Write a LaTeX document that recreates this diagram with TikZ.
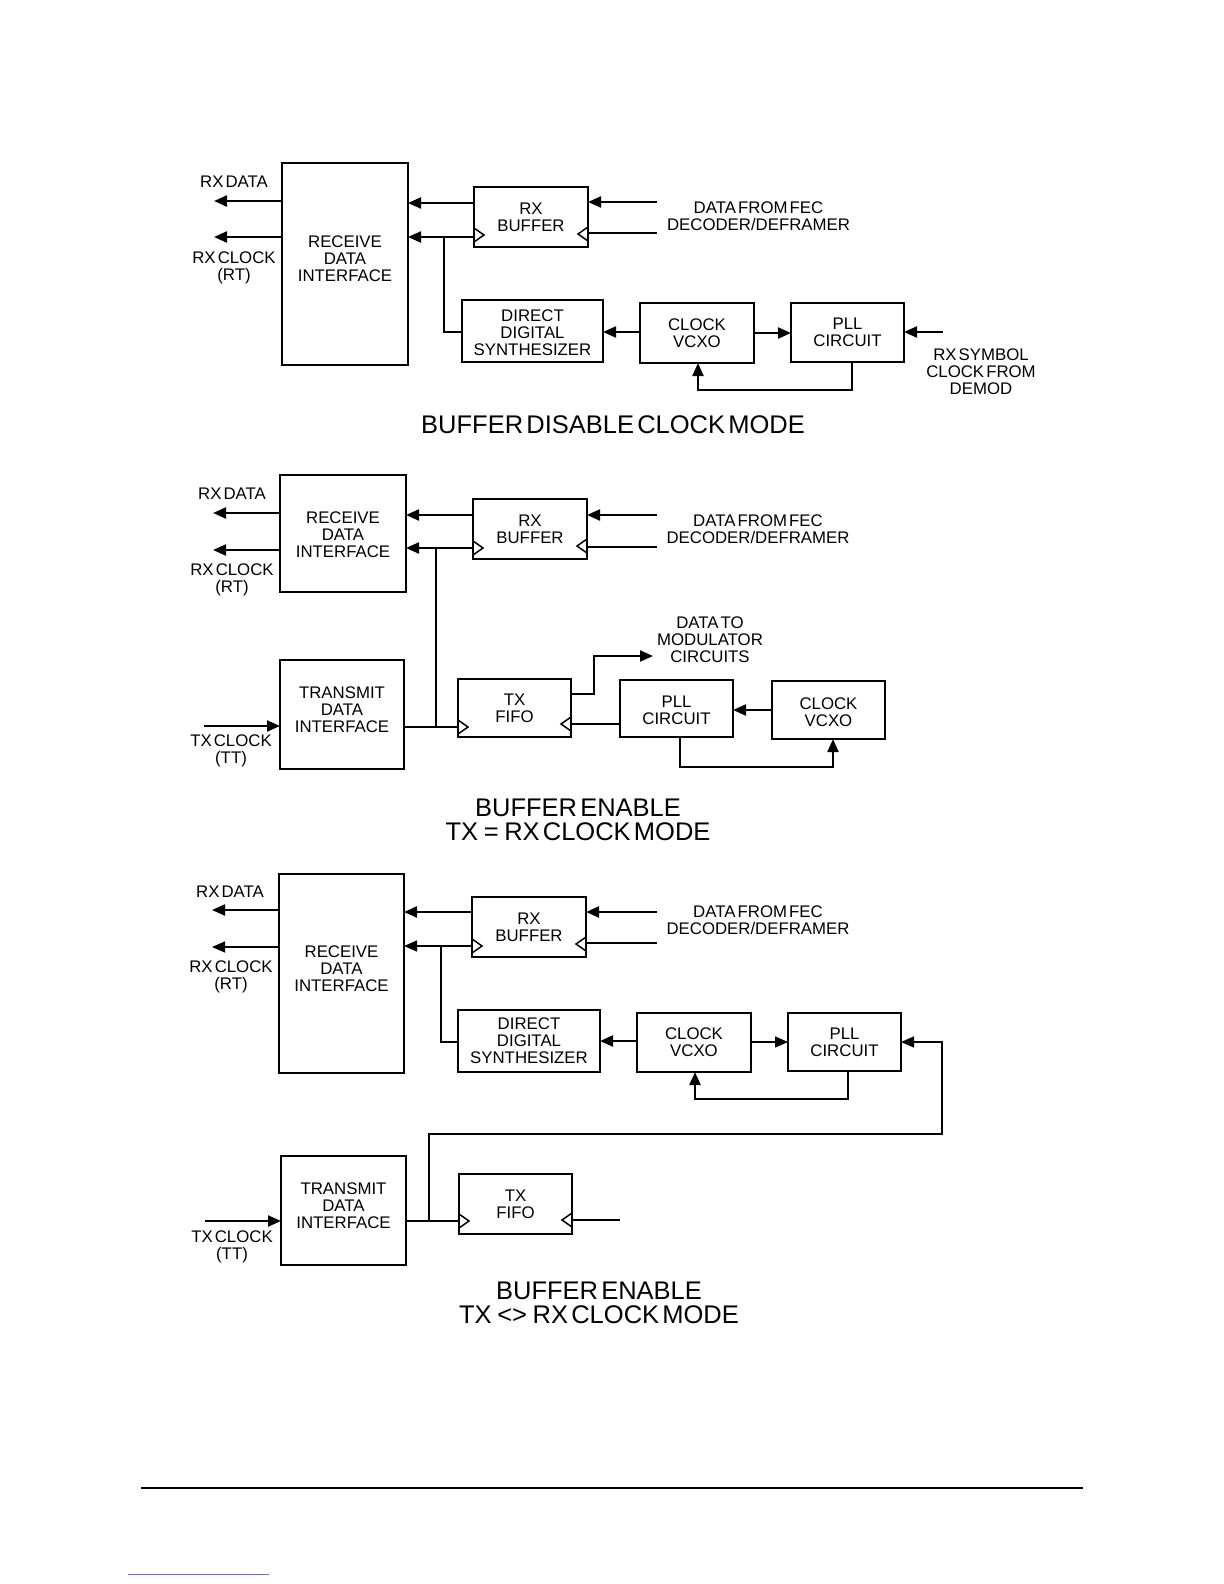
\documentclass[tikz,border=0pt]{standalone}
\usepackage{fontspec}
\setmainfont{Liberation Sans}[WordSpace=0.45]
\usetikzlibrary{arrows.meta}
\newcommand\lblfont{\fontsize{8.4}{8.4}\selectfont}
\newcommand\ttlfont{\fontsize{12.75}{12}\selectfont}
\tikzset{
  blk/.style={draw, line width=1pt, inner sep=0pt, outer sep=0pt},
  lbl/.style={inner sep=0pt, align=center, font=\lblfont},
  ttl/.style={inner sep=0pt, align=center, font=\ttlfont},
  wire/.style={line width=1.1pt},
  thinw/.style={line width=0.7pt},
  arr/.style={-{Triangle[length=6.5pt,width=5.5pt]}},
  clk/.style={line width=0.75pt, line join=miter},
}
% \blk[dy]{name}{x1}{y1}{x2}{y2}{text}
\newcommand\blk[7][0]{%
  \node[blk, minimum width={(#5-#3)*0.5pt}, minimum height={(#6-#4)*0.5pt}] (#2) at ({(#3+#5)/2},{(#4+#6)/2}) {};
  \node[lbl] (#2-t) at ({(#3+#5)/2},{(#4+#6)/2+#1}) {#7};}
\newcommand\clkL[2]{\draw[clk] (#1.west |- 0,#2) ++(0,-7) -- ++(10,7) -- ++(-10,7);}
\newcommand\clkR[2]{\draw[clk] (#1.east |- 0,#2) ++(0,-7) -- ++(-10,7) -- ++(10,7);}
\begin{document}
\begin{tikzpicture}[x=0.5pt,y=-0.5pt]
\fill[white] (0,0) rectangle (1224,1584);
\path[use as bounding box] (0,0) rectangle (1224,1584);

% ================= Diagram 1 =================
\blk[-5]{rdi1}{282}{163}{408}{365}{RECEIVE\\DATA\\INTERFACE}
\blk{rxb1}{474}{187}{588}{247}{RX\\BUFFER}
\blk[1.5]{dds1}{462}{300}{603}{362}{DIRECT\\DIGITAL\\SYNTHESIZER}
\blk{vcxo1}{640}{303}{754}{363}{CLOCK\\VCXO}
\blk{pll1}{791}{303}{904}{362}{PLL\\CIRCUIT}
\node[lbl] (rxdl1) at (234,182) {RX DATA};
\node[lbl] (rxcl1) at (234,268) {RX CLOCK\\(RT)};
\coordinate (rxdo1) at (214,201);
\coordinate (rxco1) at (214,237);
\draw[wire,arr] (rdi1.west |- rxdo1) -- (rxdo1);
\draw[wire,arr] (rdi1.west |- rxco1) -- (rxco1);
\draw[wire,arr] (rxb1.west |- 0,203) -- (rdi1.east |- 0,203);
\draw[wire,arr] (rxb1.west |- 0,237) -- (rdi1.east |- 0,237);
\coordinate (j1) at (444,237);
\draw[wire] (j1) |- (dds1.west |- 0,332);
\coordinate (fecd1) at (657,202);
\coordinate (fecc1) at (657,233);
\draw[wire,arr] (fecd1) -- (rxb1.east |- fecd1);
\draw[wire] (fecc1) -- (rxb1.east |- fecc1);
\node[lbl] (fec1) at (758.5,216) {DATA FROM FEC\\DECODER/DEFRAMER};
\clkL{rxb1}{235}
\clkR{rxb1}{234}
\draw[wire,arr] (vcxo1.west |- 0,332) -- (dds1.east |- 0,332);
\draw[wire,arr] (vcxo1.east |- 0,333) -- (pll1.west |- 0,333);
\coordinate (sym1) at (943,332);
\draw[wire,arr] (sym1) -- (pll1.east |- sym1);
\draw[wire,arr] (pll1.south -| 852,0) -- (852,390) -- (698,390) -- (vcxo1.south -| 698,0);
\node[lbl] (syml1) at (981,372) {RX SYMBOL\\CLOCK FROM\\DEMOD};
\node[ttl] (t1) at (613,425) {BUFFER DISABLE CLOCK MODE};

% ================= Diagram 2 =================
\blk[1.5]{rdi2}{280}{475}{406}{592}{RECEIVE\\DATA\\INTERFACE}
\blk{rxb2}{473}{499}{587}{559}{RX\\BUFFER}
\blk[-5]{tdi2}{280}{660}{404}{769}{TRANSMIT\\DATA\\INTERFACE}
\blk{fifo2}{458}{679}{571}{737}{TX\\FIFO}
\blk[2]{pll2}{620}{680}{733}{737}{PLL\\CIRCUIT}
\blk[2]{vcxo2}{772}{681}{885}{739}{CLOCK\\VCXO}
\node[lbl] (rxdl2) at (232,494) {RX DATA};
\node[lbl] (rxcl2) at (232,580) {RX CLOCK\\(RT)};
\coordinate (rxdo2) at (213,513);
\coordinate (rxco2) at (213,550);
\draw[wire,arr] (rdi2.west |- rxdo2) -- (rxdo2);
\draw[wire,arr] (rdi2.west |- rxco2) -- (rxco2);
\draw[wire,arr] (rxb2.west |- 0,515) -- (rdi2.east |- 0,515);
\draw[wire,arr] (rxb2.west |- 0,548) -- (rdi2.east |- 0,548);
\coordinate (j2) at (436,548);
\coordinate (j2b) at (436,727);
\draw[wire] (j2) -- (j2b);
\draw[wire] (tdi2.east |- j2b) -- (fifo2.west |- j2b);
\coordinate (fecd2) at (657,515);
\coordinate (fecc2) at (657,547);
\draw[wire,arr] (fecd2) -- (rxb2.east |- fecd2);
\draw[wire] (fecc2) -- (rxb2.east |- fecc2);
\node[lbl] (fec2) at (758,529.5) {DATA FROM FEC\\DECODER/DEFRAMER};
\clkL{rxb2}{548}
\clkR{rxb2}{546}
\coordinate (txci2) at (204,726);
\draw[wire,arr] (txci2) -- (tdi2.west |- txci2);
\node[lbl] (txcl2) at (231,751) {TX CLOCK\\(TT)};
\coordinate (dtm2) at (653,656);
\draw[wire,arr] (fifo2.east |- 0,694) -| (594,656) -- (dtm2);
\node[lbl] (dtml2) at (710,640) {DATA TO\\MODULATOR\\CIRCUITS};
\clkL{fifo2}{727}
\clkR{fifo2}{724}
\draw[wire,arr] (vcxo2.west |- 0,710) -- (pll2.east |- 0,710);
\draw[wire] (pll2.west |- 0,724) -- (fifo2.east |- 0,724);
\draw[wire,arr] (pll2.south -| 680,0) -- (680,767) -- (833,767) -- (vcxo2.south -| 833,0);
\node[ttl] (t2) at (578,820) {BUFFER ENABLE\\TX\hspace{0.22em}=\hspace{0.22em}RX CLOCK MODE};

% ================= Diagram 3 =================
\blk[-5]{rdi3}{279}{874}{404}{1073}{RECEIVE\\DATA\\INTERFACE}
\blk{rxb3}{472}{897}{586}{957}{RX\\BUFFER}
\blk{dds3}{458}{1010}{600}{1072}{DIRECT\\DIGITAL\\SYNTHESIZER}
\blk{vcxo3}{637}{1013}{751}{1072}{CLOCK\\VCXO}
\blk{pll3}{788}{1013}{901}{1071}{PLL\\CIRCUIT}
\blk[-5]{tdi3}{281}{1156}{406}{1265}{TRANSMIT\\DATA\\INTERFACE}
\blk{fifo3}{459}{1174}{572}{1234}{TX\\FIFO}
\node[lbl] (rxdl3) at (230,892) {RX DATA};
\node[lbl] (rxcl3) at (231,977) {RX CLOCK\\(RT)};
\coordinate (rxdo3) at (212,910);
\coordinate (rxco3) at (212,947);
\draw[wire,arr] (rdi3.west |- rxdo3) -- (rxdo3);
\draw[thinw,arr] (rdi3.west |- rxco3) -- (rxco3);
\draw[wire,arr] (rxb3.west |- 0,912) -- (rdi3.east |- 0,912);
\draw[thinw,arr] (rxb3.west |- 0,946) -- (rdi3.east |- 0,946);
\coordinate (j3) at (441,946);
\draw[thinw] (j3) |- (dds3.west |- 0,1042);
\coordinate (fecd3) at (657,912);
\coordinate (fecc3) at (657,943);
\draw[wire,arr] (fecd3) -- (rxb3.east |- fecd3);
\draw[thinw] (fecc3) -- (rxb3.east |- fecc3);
\node[lbl] (fec3) at (758,920.5) {DATA FROM FEC\\DECODER/DEFRAMER};
\clkL{rxb3}{946}
\clkR{rxb3}{944}
\draw[wire,arr] (vcxo3.west |- 0,1041) -- (dds3.east |- 0,1041);
\draw[thinw,arr] (vcxo3.east |- 0,1042) -- (pll3.west |- 0,1042);
\draw[wire,arr] (pll3.south -| 848,0) -- (848,1099) -- (695,1099) -- (vcxo3.south -| 695,0);
\coordinate (txci3) at (205,1221);
\draw[wire,arr] (txci3) -- (tdi3.west |- txci3);
\node[lbl] (txcl3) at (232,1247) {TX CLOCK\\(TT)};
\coordinate (j4) at (429,1221);
\draw[wire] (tdi3.east |- j4) -- (fifo3.west |- j4);
\draw[thinw,arr] (j4) -- (429,1134) -- (942,1134) -- (942,1042) -- (pll3.east |- 0,1042);
\clkL{fifo3}{1221}
\clkR{fifo3}{1220}
\coordinate (fout3) at (620,1220);
\draw[thinw] (fifo3.east |- fout3) -- (fout3);
\node[ttl] (t3) at (599,1303) {BUFFER ENABLE\\TX\hspace{0.22em}<>\hspace{0.22em}RX CLOCK MODE};

% ================= footer =================
\draw[line width=0.8pt] (141,1488) -- (1083,1488);
\draw[line width=0.5pt, blue!60] (128,1574) -- (269,1574);
\end{tikzpicture}
\end{document}
